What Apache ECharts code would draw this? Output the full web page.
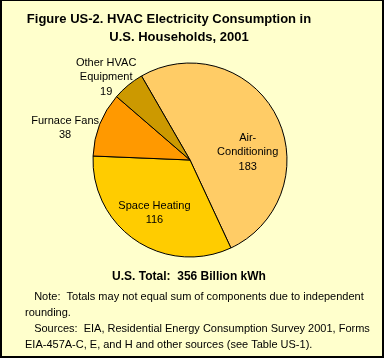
<!DOCTYPE html>
<html>
<head>
<meta charset="utf-8">
<script src="https://cdn.jsdelivr.net/npm/echarts@6/dist/echarts.min.js"></script>
<style>
html,body{margin:0;padding:0;background:#FFFFCC;}
#wrap{width:384px;height:358px;box-sizing:border-box;border:1px solid #000;border-width:1px 2px 2px 2px;background:#FFFFCC;overflow:hidden;}
#chart{width:380px;height:355px;}
</style>
</head>
<body>
<div id="wrap"><div id="chart"></div></div>
<script>
const categories = ['Air-\nConditioning', 'Space Heating', 'Furnace Fans', 'Other HVAC\nEquipment'];
const values = [183, 116, 38, 19];
const colors = ['#FFCC66', '#FFCC00', '#FF9900', '#CC9900'];
const labelOffsets = [[12, 16], [-7, 10], [-77, -13], [-51, -43]];
const titleLine1 = 'Figure US-2. HVAC Electricity Consumption in';
const titleLine2 = 'U.S. Households, 2001';
const totalText = 'U.S. Total:  356 Billion kWh';
const noteText = '   Note:  Totals may not equal sum of components due to independent\nrounding.\n   Sources:  EIA, Residential Energy Consumption Survey 2001, Forms\nEIA-457A-C, E, and H and other sources (see Table US-1).';

const chart = echarts.init(document.getElementById('chart'), null, {renderer: 'canvas'});
const bold = {fontFamily: 'Arial, "Liberation Sans", sans-serif', fontWeight: 'bold', color: '#000'};
chart.setOption({
  backgroundColor: '#FFFFCC',
  animation: false,
  title: [
    {text: titleLine1, left: 167, top: 12, padding: 0, textAlign: 'center', textStyle: Object.assign({fontSize: 13}, bold)},
    {text: titleLine2, left: 177, top: 30, padding: 0, textAlign: 'center', textStyle: Object.assign({fontSize: 13}, bold)},
    {text: totalText, left: 187, top: 270, padding: 0, textAlign: 'center', textStyle: Object.assign({fontSize: 12}, bold)},
    {text: noteText, left: 23, top: 288, padding: 0, textStyle: {fontFamily: 'Arial, "Liberation Sans", sans-serif', fontSize: 11, fontWeight: 'normal', color: '#000', lineHeight: 16}}
  ],
  series: [{
    type: 'pie',
    center: [188, 159],
    radius: 97,
    startAngle: 120,
    clockwise: true,
    avoidLabelOverlap: false,
    itemStyle: {borderColor: '#000', borderWidth: 1},
    label: {
      position: 'inside',
      formatter: p => p.name + '\n' + p.value,
      fontFamily: 'Arial, "Liberation Sans", sans-serif',
      fontSize: 11,
      lineHeight: 14.5,
      color: '#000',
      align: 'center'
    },
    labelLine: {show: false},
    labelLayout: p => ({dx: labelOffsets[p.dataIndex][0], dy: labelOffsets[p.dataIndex][1]}),
    emphasis: {disabled: true},
    data: categories.map((c, i) => ({name: c, value: values[i], itemStyle: {color: colors[i]}}))
  }]
});
</script>
</body>
</html>
